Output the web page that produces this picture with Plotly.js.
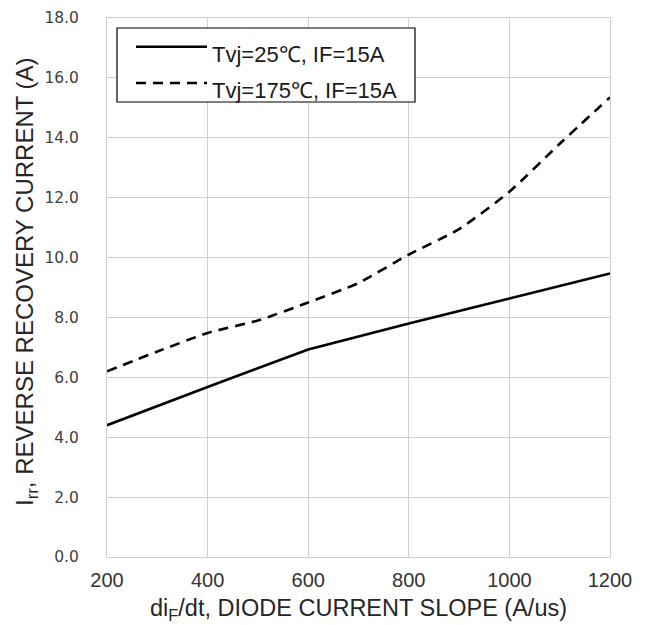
<!DOCTYPE html>
<html>
<head>
<meta charset="utf-8">
<script src="https://cdn.plot.ly/plotly-3.0.1.min.js"></script>
<style>html,body{margin:0;padding:0;background:#fff;}#chart{width:649px;height:625px;}</style>
</head>
<body>
<div id="chart"></div>
<script>
// Data
const xSolid = [200, 400, 600, 800, 1000, 1200];
const irr25 = [4.4, 5.68, 6.93, 7.8, 8.63, 9.47];
const xDashed = [200, 300, 400, 500, 600, 700, 800, 900, 1000, 1100, 1200];
const irr175 = [6.2, 6.86, 7.48, 7.9, 8.5, 9.15, 10.1, 10.95, 12.2, 13.8, 15.35];
const seriesNames = ["Tvj=25\u2103, IF=15A", "Tvj=175\u2103, IF=15A"];
const xTitle = 'di<sub>F</sub>/dt, DIODE CURRENT SLOPE (A/us)';
const yTitle = 'I<sub>rr</sub>, REVERSE RECOVERY CURRENT (A)';
const xTicks = [200, 400, 600, 800, 1000, 1200];
const yTicks = [0, 2, 4, 6, 8, 10, 12, 14, 16, 18];

const FONT = 'Liberation Sans, Arial, sans-serif';

const traces = [
  {x: xSolid, y: irr25, type: 'scatter', mode: 'lines', name: seriesNames[0],
   line: {color: '#000', width: 2.6}, showlegend: false},
  {x: xDashed, y: irr175, type: 'scatter', mode: 'lines', name: seriesNames[1],
   line: {color: '#000', width: 2.6, dash: '10px,7px', shape: 'spline', smoothing: 0.6}, showlegend: false}
];

const W = 503, H = 539; // plot area size in px
function px(xp){ return xp / W; }
function py(yp){ return 1 - yp / H; }

const layout = {
  width: 649, height: 625,
  margin: {l: 107, r: 39, t: 18, b: 68},
  paper_bgcolor: '#fff', plot_bgcolor: '#fff',
  font: {family: FONT, color: '#262626'},
  xaxis: {
    range: [200, 1200], tickvals: xTicks, ticktext: xTicks.map(String),
    showgrid: true, gridcolor: '#d0d0d0', gridwidth: 1, zeroline: false,
    showline: true, mirror: true, linecolor: '#d0d0d0', linewidth: 1,
    ticks: '', ticklabelstandoff: 5,
    tickfont: {family: FONT, size: 20, color: '#333333'}
  },
  yaxis: {
    range: [0, 18], tickvals: yTicks, ticktext: yTicks.map(v => v.toFixed(1)),
    showgrid: true, gridcolor: '#d0d0d0', gridwidth: 1, zeroline: false,
    showline: true, mirror: true, linecolor: '#d0d0d0', linewidth: 1,
    ticks: '', ticklabelstandoff: 24,
    tickfont: {family: 'DejaVu Sans, sans-serif', size: 15.5, color: '#404040'}
  },
  shapes: [
    {type: 'rect', xref: 'paper', yref: 'paper', x0: px(10), x1: px(308), y0: py(84), y1: py(10),
     line: {color: '#000', width: 1.2}, fillcolor: '#fff', layer: 'above'},
    {type: 'line', xref: 'paper', yref: 'paper', x0: px(29), x1: px(100), y0: py(28.7), y1: py(28.7),
     line: {color: '#000', width: 2.6}},
    {type: 'line', xref: 'paper', yref: 'paper', x0: px(29), x1: px(100), y0: py(65), y1: py(65),
     line: {color: '#000', width: 2.6, dash: '10px,7px'}}
  ],
  annotations: [
    {xref: 'paper', yref: 'paper', x: px(103), y: py(36.5), xanchor: 'left', yanchor: 'middle',
     text: seriesNames[0], showarrow: false,
     font: {family: FONT, size: 22, color: '#1a1a1a'}},
    {xref: 'paper', yref: 'paper', x: px(103), y: py(72), xanchor: 'left', yanchor: 'middle',
     text: seriesNames[1], showarrow: false,
     font: {family: FONT, size: 22, color: '#1a1a1a'}},
    {xref: 'paper', yref: 'paper', x: 0.5, y: py(591), xanchor: 'center', yanchor: 'middle',
     text: xTitle, showarrow: false,
     font: {family: FONT, size: 23.5, color: '#262626'}},
    {xref: 'paper', yref: 'paper', x: px(-81), y: py(264), xanchor: 'center', yanchor: 'middle',
     textangle: -90, text: yTitle, showarrow: false,
     font: {family: FONT, size: 24, color: '#262626'}}
  ]
};

Plotly.newPlot('chart', traces, layout, {displayModeBar: false, staticPlot: true});
</script>
</body>
</html>
